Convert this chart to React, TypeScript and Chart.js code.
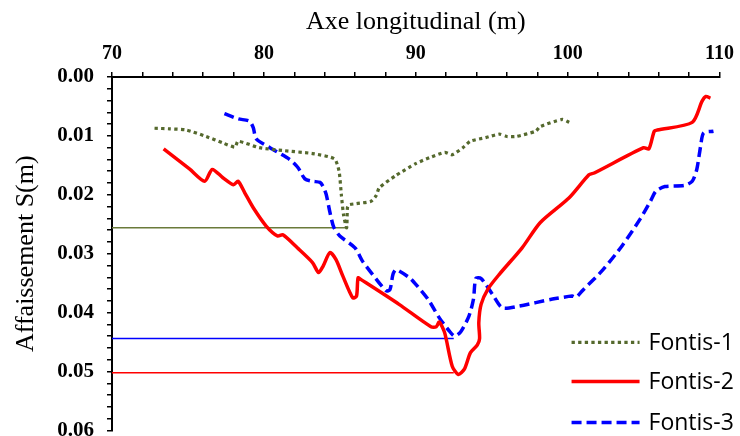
import React, { useEffect, useRef } from 'react';
import { Chart, registerables } from 'chart.js';
Chart.register(...registerables);

const fontis1X = [72.8, 73.8, 74.9, 76.2, 77.3, 78.1, 78.3, 79.7, 81.3, 83.2, 84.65, 84.95, 85.1, 85.25, 85.45, 85.5, 85.6, 86.1, 87.05, 87.4, 87.6, 88.7, 90.0, 90.9, 91.9, 92.4, 93.1, 93.6, 94.6, 95.5, 96.0, 96.6, 97.9, 98.2, 99.65, 100.1];
const fontis1Y = [0.0087, 0.0088, 0.0090, 0.0101, 0.0112, 0.0119, 0.0109, 0.0120, 0.0125, 0.0130, 0.0139, 0.0160, 0.0200, 0.0235, 0.0256, 0.0222, 0.0217, 0.0215, 0.0211, 0.0201, 0.0188, 0.0167, 0.0147, 0.0137, 0.0128, 0.0132, 0.0120, 0.0109, 0.0103, 0.0097, 0.0101, 0.0101, 0.0092, 0.0084, 0.0072, 0.0077];

const fontis2X = [73.4, 75.1, 76.1, 76.6, 77.3, 78.0, 78.3, 78.75, 79.3, 80.15, 80.9, 81.25, 82.2, 83.2, 83.6, 83.9, 84.35, 84.75, 85.2, 85.85, 86.1, 86.2, 86.4, 88.9, 91.0, 91.35, 91.55, 91.9, 92.4, 92.8, 93.2, 93.6, 94.05, 94.2, 94.15, 94.3, 94.75, 95.5, 97.0, 98.2, 100.1, 101.4, 101.75, 105.0, 105.35, 105.7, 105.9, 108.2, 108.85, 109.1, 109.4];
const fontis2Y = [0.0122, 0.0156, 0.0177, 0.0157, 0.0171, 0.0183, 0.0177, 0.0197, 0.0222, 0.0253, 0.0270, 0.0268, 0.0290, 0.0315, 0.0332, 0.0321, 0.0298, 0.0310, 0.0338, 0.0375, 0.0372, 0.0341, 0.0344, 0.0386, 0.0424, 0.0424, 0.0416, 0.0434, 0.0491, 0.0505, 0.0496, 0.0468, 0.0455, 0.0444, 0.0417, 0.0386, 0.0360, 0.0335, 0.0290, 0.0247, 0.0205, 0.0166, 0.0163, 0.0120, 0.0122, 0.0092, 0.0090, 0.0077, 0.0041, 0.0033, 0.0036];

const fontis3X = [77.4, 78.3, 79.05, 79.3, 79.5, 80.4, 81.7, 82.25, 82.7, 83.2, 83.7, 83.9, 84.1, 84.35, 84.6, 85.0, 86.0, 86.5, 87.15, 88.05, 88.3, 88.5, 88.7, 89.6, 89.9, 90.8, 91.55, 92.2, 92.55, 92.95, 93.5, 93.8, 93.95, 94.3, 95.05, 95.7, 96.8, 99.0, 100.3, 100.55, 101.0, 102.3, 103.6, 104.8, 105.45, 105.8, 106.4, 107.7, 108.2, 108.5, 108.75, 108.95, 109.6];
const fontis3Y = [0.0062, 0.0071, 0.0075, 0.0086, 0.0105, 0.0120, 0.0140, 0.0154, 0.0173, 0.0177, 0.0179, 0.0186, 0.0199, 0.0230, 0.0255, 0.0270, 0.0290, 0.0313, 0.0335, 0.0363, 0.0361, 0.0335, 0.0327, 0.0341, 0.0349, 0.0377, 0.0409, 0.0431, 0.0440, 0.0433, 0.0406, 0.0377, 0.0342, 0.0342, 0.0369, 0.0392, 0.0389, 0.0377, 0.0372, 0.0374, 0.0362, 0.0328, 0.0286, 0.0240, 0.0211, 0.0194, 0.0186, 0.0184, 0.0177, 0.0157, 0.0118, 0.0095, 0.0092];

// Horizontal reference levels (max settlement of each profile)
const ref1X = [70, 85.4];
const ref1Y = [0.0256, 0.0256];
const ref2X = [70, 92.5];
const ref2Y = [0.0502, 0.0502];
const ref3X = [70, 92.5];
const ref3Y = [0.0444, 0.0444];

const seriesLabels = ['Fontis-1', 'Fontis-2', 'Fontis-3'];
const xTitle = 'Axe longitudinal (m)';
const yTitle = 'Affaissement S(m)';

const OLIVE = '#55692d';
const OLIVE_LINE = '#6a7a3a';
const RED = '#ff0000';
const BLUE = '#0000ff';
const SERIF = '"Liberation Serif", "Times New Roman", serif';

function pts(xs: number[], ys: number[]) {
  return xs.map((x, i) => ({ x, y: ys[i] }));
}

export default function App() {
  const ref = useRef<HTMLCanvasElement>(null);

  useEffect(() => {
    if (!ref.current) return;
    const legendPlugin = {
      id: 'insideLegend',
      afterDatasetsDraw(chart: any) {
        const { ctx, chartArea } = chart;
        const ys = [chartArea.bottom - 88, chartArea.bottom - 49, chartArea.bottom - 8];
        [0, 1, 2].forEach((i) => {
          const ds = chart.data.datasets[i];
          const y = ys[i];
          const x0 = chartArea.right - 148;
          const x1 = chartArea.right - 80;
          ctx.save();
          ctx.beginPath();
          ctx.setLineDash(ds.borderDash || []);
          ctx.lineCap = 'butt';
          ctx.strokeStyle = ds.borderColor;
          ctx.lineWidth = ds.borderWidth;
          ctx.moveTo(x0, y);
          ctx.lineTo(x1, y);
          ctx.stroke();
          ctx.setLineDash([]);
          ctx.fillStyle = '#000';
          ctx.font = '23px "Open Sans", Lato, sans-serif';
          ctx.textAlign = 'left';
          ctx.textBaseline = 'middle';
          ctx.fillText(ds.label, chartArea.right - 71, y + 1);
          ctx.restore();
        });
      },
    };

    const yTitlePlugin = {
      id: 'yTitle',
      afterDraw(chart: any) {
        const { ctx, chartArea } = chart;
        ctx.save();
        ctx.translate(chartArea.left - 79, (chartArea.top + chartArea.bottom) / 2);
        ctx.rotate(-Math.PI / 2);
        ctx.fillStyle = '#000';
        ctx.font = `26px ${SERIF}`;
        ctx.textAlign = 'center';
        ctx.textBaseline = 'alphabetic';
        ctx.fillText(yTitle, 0, 0);
        ctx.restore();
      },
    };

    const chart = new Chart(ref.current, {
      type: 'line',
      data: {
        datasets: [
          {
            label: seriesLabels[0],
            data: pts(fontis1X, fontis1Y),
            borderColor: OLIVE,
            borderWidth: 3.2,
            borderDash: [3.3, 3.3],
            pointRadius: 0,
            tension: 0.2,
            fill: false,
          },
          {
            label: seriesLabels[1],
            data: pts(fontis2X, fontis2Y),
            borderColor: RED,
            borderWidth: 3.5,
            pointRadius: 0,
            tension: 0.25,
            fill: false,
          },
          {
            label: seriesLabels[2],
            data: pts(fontis3X, fontis3Y),
            borderColor: BLUE,
            borderWidth: 3.5,
            borderDash: [10, 5],
            pointRadius: 0,
            tension: 0.25,
            fill: false,
          },
          {
            label: 'ref1',
            data: pts(ref1X, ref1Y),
            borderColor: OLIVE_LINE,
            borderWidth: 1.5,
            pointRadius: 0,
            tension: 0,
          },
          {
            label: 'ref2',
            data: pts(ref2X, ref2Y),
            borderColor: RED,
            borderWidth: 1.5,
            pointRadius: 0,
            tension: 0,
          },
          {
            label: 'ref3',
            data: pts(ref3X, ref3Y),
            borderColor: BLUE,
            borderWidth: 1.5,
            pointRadius: 0,
            tension: 0,
          },
        ],
      },
      options: {
        responsive: false,
        animation: false,
        devicePixelRatio: 1,
        layout: { padding: { left: 0, right: 18, top: 0, bottom: 15 } },
        plugins: {
          legend: { display: false },
          tooltip: { enabled: false },
        },
        scales: {
          x: {
            type: 'linear',
            position: 'top',
            min: 70,
            max: 110,
            afterFit: (s: any) => {
              s.height = 77;
            },
            ticks: {
              stepSize: 2,
              maxTicksLimit: 100,
              autoSkip: false,
              maxRotation: 0,
              padding: 6,
              color: '#000',
              font: { family: SERIF, size: 20, weight: 'bold' },
              callback: (v: any) => {
                const n = Math.round(Number(v));
                return n % 10 === 0 ? String(n) : '';
              },
            },
            grid: {
              display: true,
              drawOnChartArea: false,
              drawTicks: true,
              tickLength: 5,
              color: '#000',
              lineWidth: 1.5,
            },
            border: { display: true, color: '#000', width: 2 },
            title: {
              display: true,
              text: xTitle,
              color: '#000',
              font: { family: SERIF, size: 26 },
              padding: { top: 7, bottom: 0 },
            },
          },
          y: {
            type: 'linear',
            reverse: true,
            min: 0,
            max: 0.06,
            afterFit: (s: any) => {
              s.width = 112;
            },
            ticks: {
              stepSize: 0.002,
              maxTicksLimit: 100,
              autoSkip: false,
              padding: 13,
              color: '#000',
              font: { family: SERIF, size: 21, weight: 'bold' },
              callback: (v: any) => {
                const r = Math.round(Number(v) * 1000);
                return r % 10 === 0 ? (r / 1000).toFixed(2) : '';
              },
            },
            grid: {
              display: true,
              drawOnChartArea: false,
              drawTicks: true,
              tickLength: 5,
              color: '#000',
              lineWidth: 1.5,
            },
            border: { display: true, color: '#000', width: 2 },
            title: { display: false },
          },
        },
      },
      plugins: [legendPlugin, yTitlePlugin],
    });
    return () => chart.destroy();
  }, []);

  return (
    <div
      style={{
        position: 'fixed',
        left: 0,
        top: 0,
        width: 740,
        height: 436,
        overflow: 'hidden',
        background: '#fff',
      }}
    >
      <canvas ref={ref} width={740} height={456} style={{ display: 'block' }} />
    </div>
  );
}
